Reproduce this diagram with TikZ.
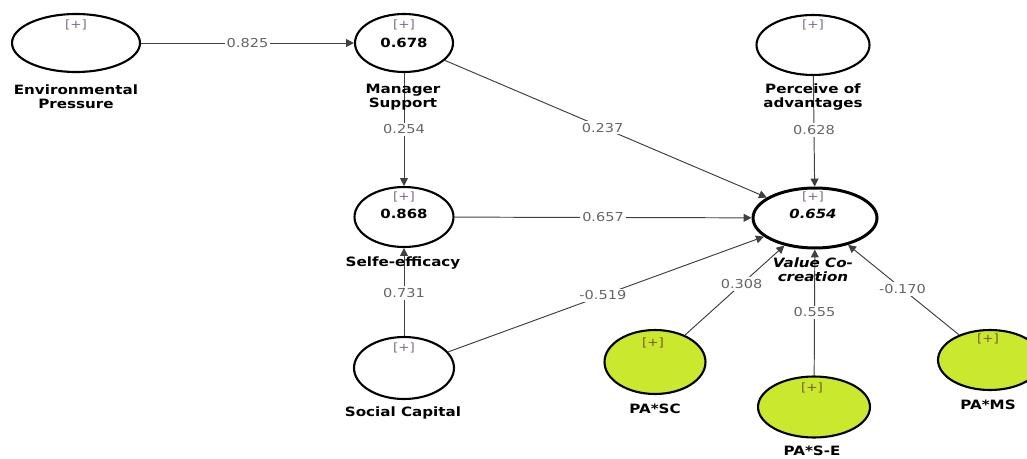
\documentclass[tikz,border=0pt]{standalone}
\usepackage{fontspec}
\setmainfont[FakeStretch=1.18]{DejaVu Sans}
\usetikzlibrary{shapes}
\usetikzlibrary{arrows.meta}
\usetikzlibrary{positioning}
\definecolor{pagreen}{RGB}{202,232,45}
\definecolor{plusgray}{RGB}{125,105,140}
\definecolor{plusbrown}{RGB}{120,90,30}

\begin{document}
\begin{tikzpicture}[x=0.02cm,y=-0.02cm,
  lv/.style={ellipse,draw,line width=1.2pt,inner sep=0pt},
  mod/.style={lv,fill=pagreen},
  plus/.style={font=\fontsize{6.5}{7}\selectfont,text=plusgray,inner sep=0pt},
  rsq/.style={font=\fontsize{7.2}{8}\selectfont\bfseries,inner sep=0pt},
  lvname/.style={font=\fontsize{7.3}{8.2}\selectfont\bfseries,align=center,inner sep=0pt},
  elabel/.style={fill=white,inner sep=1.2pt,text=black!60,font=\fontsize{7}{8}\selectfont},
  path/.style={draw=black!75,line width=0.55pt,-{Triangle[length=4.5pt,width=4.5pt]}}]
  \useasboundingbox (0,0) rectangle (1027,459);
  \clip (0,0) rectangle (1027,459);

  % latent variables
  \node[lv,minimum width=2.56cm,minimum height=1.16cm] (envp) at (76,43) {};
  \node[lv,minimum width=1.96cm,minimum height=1.16cm] (mgrs) at (404,43) {};
  \node[lv,minimum width=1.98cm,minimum height=1.2cm] (selfe) at (404,217) {};
  \node[lv,minimum width=2cm,minimum height=1.24cm] (socc) at (404,368) {};
  \node[lv,minimum width=2.26cm,minimum height=1.2cm] (perc) at (813,45) {};
  \node[lv,line width=1.7pt,minimum width=2.48cm,minimum height=1.2cm] (vcc) at (815,218) {};
  \node[mod,minimum width=2.02cm,minimum height=1.28cm] (pasc) at (655,362) {};
  \node[mod,minimum width=2.24cm,minimum height=1.22cm] (pase) at (814,407) {};
  \node[mod,minimum width=2.08cm,minimum height=1.2cm] (pams) at (990,360) {};

  % paths
  \draw[path] (envp) -- node[elabel] (e1) {0.825} (mgrs);
  \draw[path] (mgrs) -- node[elabel] (e2) {0.254} (selfe);
  \draw[path] (mgrs) -- node[elabel,pos=.49] (e3) {0.237} (vcc);
  \draw[path] (perc) -- node[elabel,pos=.49] (e4) {0.628} (vcc);
  \draw[path] (selfe) -- node[elabel] (e5) {0.657} (vcc);
  \draw[path] (socc) -- node[elabel,pos=.49] (e6) {0.731} (selfe);
  \draw[path] (socc) -- node[elabel,pos=.49] (e7) {-0.519} (vcc);
  \draw[path] (pasc) -- node[elabel,pos=.57] (e8) {0.308} (vcc);
  \draw[path] (pase) -- node[elabel] (e9) {0.555} (vcc);
  \draw[path] (pams) -- node[elabel,pos=.51] (e10) {-0.170} (vcc);

  % [+] markers
  \node[plus] (envp-p) at (76,25) {[+]};
  \node[plus] (mgrs-p) at (404,25) {[+]};
  \node[plus] (selfe-p) at (404,197) {[+]};
  \node[plus] (socc-p) at (404,348) {[+]};
  \node[plus] (perc-p) at (813,25) {[+]};
  \node[plus] (vcc-p) at (813,197) {[+]};
  \node[plus,text=plusbrown] (pasc-p) at (653,343) {[+]};
  \node[plus,text=plusbrown] (pase-p) at (812,388) {[+]};
  \node[plus,text=plusbrown] (pams-p) at (988,339) {[+]};

  % R squared
  \node[rsq] (mgrs-r) at (404,43) {0.678};
  \node[rsq] (selfe-r) at (404,214) {0.868};
  \node[rsq,font=\fontsize{7.2}{8}\selectfont\bfseries\itshape] (vcc-r) at (813,214) {0.654};

  % names
  \node[lvname] (envp-n) at (76,97) {Environmental\\Pressure};
  \node[lvname] (mgrs-n) at (403,97) {Manager\\Support};
  \node[lvname] (selfe-n) at (403,263) {Selfe-efficacy};
  \node[lvname] (socc-n) at (403,413) {Social Capital};
  \node[lvname] (perc-n) at (813,97) {Perceive of\\advantages};
  \node[lvname,font=\fontsize{7.3}{8.2}\selectfont\bfseries\itshape] (vcc-n) at (813,270) {Value Co-\\creation};
  \node[lvname] (pasc-n) at (655,409) {PA*SC};
  \node[lvname] (pase-n) at (812,451) {PA*S-E};
  \node[lvname] (pams-n) at (988,405) {PA*MS};
\end{tikzpicture}
\end{document}
